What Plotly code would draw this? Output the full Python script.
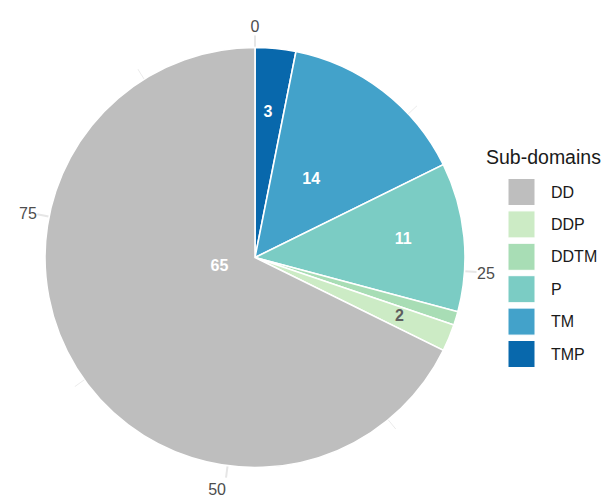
import plotly.graph_objects as go

# Sub-domain counts (legend order)
categories = ["DD", "DDP", "DDTM", "P", "TM", "TMP"]
counts = [65, 2, 1, 11, 14, 3]
colors = ["#BEBEBE", "#CCEBC5", "#A8DDB5", "#7BCCC4", "#43A2CA", "#0868AC"]
angle_breaks = [0, 25, 50, 75]
minor_breaks = [12.5, 37.5, 62.5, 87.5]
show_label = [True, True, False, True, True, True]
label_colors = ["white", "#5E5E5E", "white", "white", "white", "white"]

# label placement (fraction of pie radius, angular nudge in degrees)
label_radius = {"DD": 0.175, "DDP": 0.745, "DDTM": 0.7, "P": 0.71, "TM": 0.455, "TMP": 0.69}
label_nudge = {"DD": 17.0, "DDP": 0.0, "DDTM": 0.0, "P": -1.0, "TM": -1.5, "TMP": -0.5}

total = sum(counts)
deg = 360.0 / total

# stacking goes clockwise from the top, starting with the last level
order = list(range(len(categories)))[::-1]
theta_mid, widths, cum = {}, {}, 0.0
for i in order:
    theta_mid[i] = (cum + counts[i] / 2.0) * deg
    widths[i] = counts[i] * deg
    cum += counts[i]

FONT = "Liberation Sans, Arial, sans-serif"
PIE_PX = 210
rad = 222
R_EDGE = rad / PIE_PX

fig = go.Figure()

fig.add_trace(go.Barpolar(
    r=[1.0] * len(order),
    theta=[theta_mid[i] for i in order],
    width=[widths[i] for i in order],
    marker=dict(color=[colors[i] for i in order], line=dict(color="white", width=1.6)),
    base=0,
    showlegend=False,
    hoverinfo="skip",
))

# minor theta gridlines outside the pie
for m in minor_breaks:
    fig.add_trace(go.Scatterpolar(
        r=[1.0, R_EDGE], theta=[m * deg, m * deg], mode="lines",
        line=dict(color="#EBEBEB", width=1), showlegend=False, hoverinfo="skip",
    ))

# slice value labels
for i in order:
    if not show_label[i]:
        continue
    c = categories[i]
    fig.add_trace(go.Scatterpolar(
        r=[label_radius[c]], theta=[theta_mid[i] + label_nudge[c]],
        mode="text", text=["<b>%d</b>" % counts[i]],
        textfont=dict(family=FONT, size=16, color=label_colors[i]),
        showlegend=False, hoverinfo="skip",
    ))

W, H = 604, 500
cx, cy = 255, 257.5
fig.update_layout(
    width=W, height=H,
    margin=dict(l=0, r=0, t=0, b=0),
    paper_bgcolor="white",
    polar=dict(
        domain=dict(x=[(cx - rad) / W, (cx + rad) / W], y=[1 - (cy + rad) / H, 1 - (cy - rad) / H]),
        bgcolor="white",
        bargap=0,
        radialaxis=dict(visible=False, range=[0, R_EDGE]),
        angularaxis=dict(
            rotation=90, direction="clockwise", thetaunit="degrees",
            tickmode="array",
            tickvals=[b * deg for b in angle_breaks],
            ticktext=[str(b) for b in angle_breaks],
            tickfont=dict(family=FONT, size=16, color="#4D4D4D"),
            ticks="", showline=False,
            showgrid=True, gridcolor="#E6E6E6", gridwidth=1.6,
            layer="below traces",
        ),
    ),
)

# legend
fig.add_annotation(
    x=484 / W, y=1 - 157 / H, xref="paper", yref="paper",
    text="Sub-domains", showarrow=False, xanchor="left", yanchor="middle",
    font=dict(family=FONT, size=19.5, color="#1A1A1A"),
)
key_top, pitch, key = 178.5, 32.4, 27
for k, (name, col) in enumerate(zip(categories, colors)):
    y0 = key_top + k * pitch
    fig.add_shape(
        type="rect", xref="paper", yref="paper",
        x0=508 / W, x1=(508 + key) / W, y0=1 - y0 / H, y1=1 - (y0 + key) / H,
        fillcolor=col, line=dict(color="white", width=1),
    )
    fig.add_annotation(
        x=549 / W, y=1 - (y0 + key / 2) / H, xref="paper", yref="paper",
        text=name, showarrow=False, xanchor="left", yanchor="middle",
        font=dict(family=FONT, size=16, color="#1A1A1A"),
    )

fig.write_html("out.html")
